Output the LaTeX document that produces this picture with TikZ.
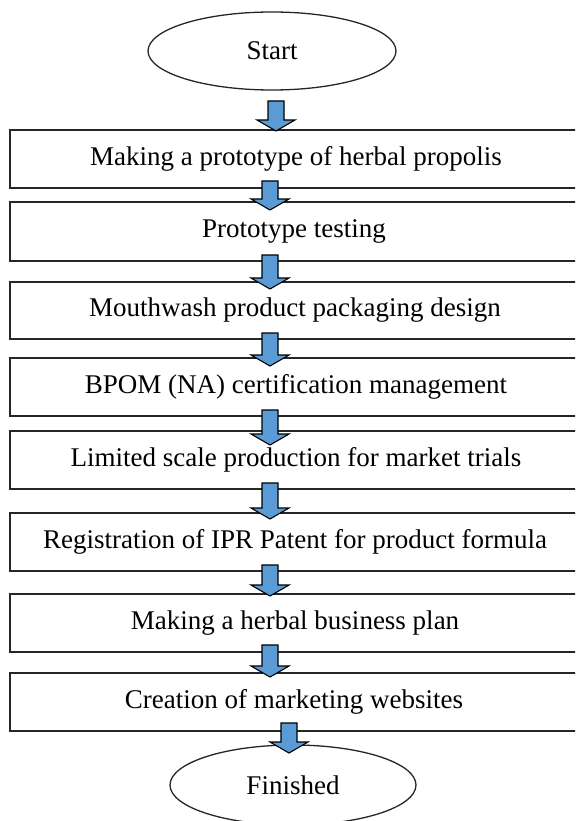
\documentclass[tikz,border=0pt]{standalone}
\usepackage{fontspec}
\setmainfont{Liberation Serif}
\usetikzlibrary{calc,shapes.geometric}
\definecolor{arrowblue}{HTML}{5B9BD5}
\tikzset{
  stepbox/.style={draw=black!85, line width=1.3pt},
  steptext/.style={inner sep=0pt, font=\fontsize{27}{31}\selectfont},
  term/.style={draw=black!85, line width=1.3pt, ellipse, inner sep=0pt, font=\fontsize{27}{31}\selectfont},
  blk/.style={draw=black, line width=1.1pt, fill=arrowblue, line join=miter},
}
\newcommand{\blockarr}[3]{% x, ytop, ytip
  \draw[blk] (#1-8,#2) -- (#1+8,#2) -- (#1+8,#3-11) -- (#1+19,#3-11) -- (#1,#3) -- (#1-19,#3-11) -- (#1-8,#3-11) -- cycle;
}
\begin{document}
\begin{tikzpicture}[x=1pt,y=-1pt]
\useasboundingbox (0,0) rectangle (575,821);
\clip (0,0) rectangle (575,821);
\fill[white] (0,0) rectangle (575,821);
% terminals
\node[term, minimum width=248pt, minimum height=78pt] (start) at (272,51) {Start};
\node[term, minimum width=246pt, minimum height=80pt] (fin) at (293,785) {Finished};
% boxes: left edge 10, right edge 580
\draw[stepbox] (10,130) rectangle (580,188);
\node[steptext] (b1) at (296,159) {Making a prototype of herbal propolis};
\draw[stepbox] (10,202) rectangle (580,261);
\node[steptext] (b2) at (294,231) {Prototype testing};
\draw[stepbox] (10,282) rectangle (580,339);
\node[steptext] (b3) at (295,310) {Mouthwash product packaging design};
\draw[stepbox] (10,358) rectangle (580,416);
\node[steptext] (b4) at (296,387) {BPOM (NA) certification management};
\draw[stepbox] (10,431) rectangle (580,489);
\node[steptext] (b5) at (296,460) {Limited scale production for market trials};
\draw[stepbox] (10,513) rectangle (580,571);
\node[steptext] (b6) at (295,542) {Registration of IPR Patent for product formula};
\draw[stepbox] (10,594) rectangle (580,652);
\node[steptext] (b7) at (295,623) {Making a herbal business plan};
\draw[stepbox] (10,673) rectangle (580,731);
\node[steptext] (b8) at (294,702) {Creation of marketing websites};
% arrows
\blockarr{276}{101}{131}
\blockarr{270}{181}{210}
\blockarr{270}{255}{289}
\blockarr{270}{333}{366}
\blockarr{270}{410}{445}
\blockarr{270}{483}{519}
\blockarr{270}{565}{596}
\blockarr{270}{645}{677}
\blockarr{289}{723}{753}
\end{tikzpicture}
\end{document}
